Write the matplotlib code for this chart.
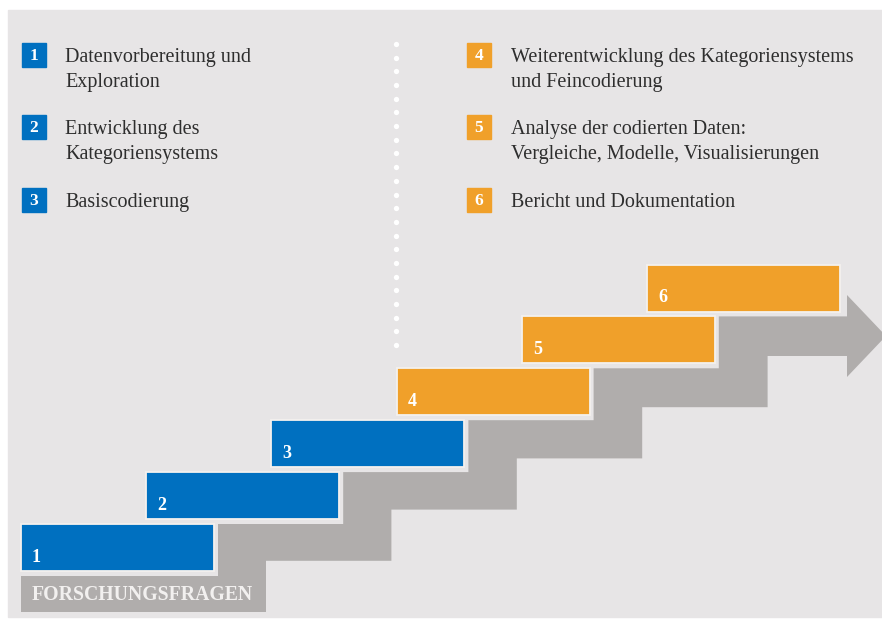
import numpy as np
import matplotlib
matplotlib.use("Agg")
import matplotlib.pyplot as plt
from matplotlib.patches import Rectangle, Polygon

# ── content ──
step_numbers = ["1", "2", "3", "4", "5", "6"]
step_colors = ["#0070c0", "#0070c0", "#0070c0", "#f0a02a", "#f0a02a", "#f0a02a"]
legend_left = ["Datenvorbereitung und\nExploration",
               "Entwicklung des\nKategoriensystems",
               "Basiscodierung"]
legend_right = ["Weiterentwicklung des Kategoriensystems\nund Feincodierung",
                "Analyse der codierten Daten:\nVergleiche, Modelle, Visualisierungen",
                "Bericht und Dokumentation"]
base_label = "FORSCHUNGSFRAGEN"

BG = "#e7e5e6"
GREY = "#b0adac"
TXT = "#2e2e2e"
SERIF = ["Liberation Serif", "DejaVu Serif"]

W, H = 882, 620
fig = plt.figure(figsize=(W / 100, H / 100), dpi=100)
ax = fig.add_axes([0, 0, 1, 1])
ax.set_xlim(0, W); ax.set_ylim(H, 0); ax.axis("off")
fig.patch.set_facecolor("white")
ax.add_patch(Rectangle((8, 10), W - 8, H - 13, color=BG, zorder=0))

# stair geometry (pixels)
x0, y0, dx, dy = 21, 524, 125.2, -51.9
bw, bh = 193, 47
lefts = [x0 + dx * k for k in range(6)]
tops = [y0 + dy * k for k in range(6)]

# ── grey staircase arrow ──
upper = [(21, 576), (lefts[0] + 197, 576)]
for k in range(5):
    upper += [(lefts[k] + 197, tops[k]), (lefts[k + 1] + 197, tops[k])]
upper = upper[:-1] + [(847, tops[4])]
head = [(847, 295), (886, 336), (847, 377)]
lower = [(847, 356)]
for j in range(4, -1, -1):
    xr = 266 + 125.4 * j
    lower += [(xr, 612 - 51.2 * (j + 1)), (xr, 612 - 51.2 * j)]
lower += [(21, 612)]
ax.add_patch(Polygon(upper + head + lower, closed=True, color=GREY, lw=0, zorder=1))
ax.text(32, 595, base_label, color="#f2f0ef", fontsize=14.2, fontweight="bold",
        family=SERIF, va="center", ha="left", zorder=3)

# ── coloured step bars ──
for k, (num, col) in enumerate(zip(step_numbers, step_colors)):
    ax.add_patch(Rectangle((lefts[k], tops[k]), bw, bh, facecolor=col,
                           edgecolor="#f4f1ee", lw=1.3, zorder=2))
    ax.text(lefts[k] + 11, tops[k] + 33, num, color="white", fontsize=13,
            fontweight="bold", family=SERIF, va="center", ha="left", zorder=3)

# ── dotted separator ──
dots_y = np.linspace(44, 345, 23)
ax.plot(np.full_like(dots_y, 396), dots_y, "o", color="white", ms=3.8, mec="none", zorder=2)

# ── legends ──
centers = [55, 127, 200]
for col_items, nums, sq_x, tx_x, col in [(legend_left, step_numbers[:3], 22, 65, "#0070c0"),
                                         (legend_right, step_numbers[3:], 467, 511, "#f0a02a")]:
    for cy, num, txt in zip(centers, nums, col_items):
        ax.add_patch(Rectangle((sq_x, cy - 12), 24, 24, color=col, zorder=2))
        ax.text(sq_x + 12, cy + 1, num, color="white", fontsize=12.5, fontweight="bold",
                family=SERIF, ha="center", va="center", zorder=3)
        for i, line in enumerate(txt.split("\n")):
            ax.text(tx_x, cy + 7 + 25 * i, line, color=TXT, fontsize=14.5, family=SERIF,
                    ha="left", va="baseline", zorder=3)

fig.savefig("out.png", dpi=100, facecolor="white")
